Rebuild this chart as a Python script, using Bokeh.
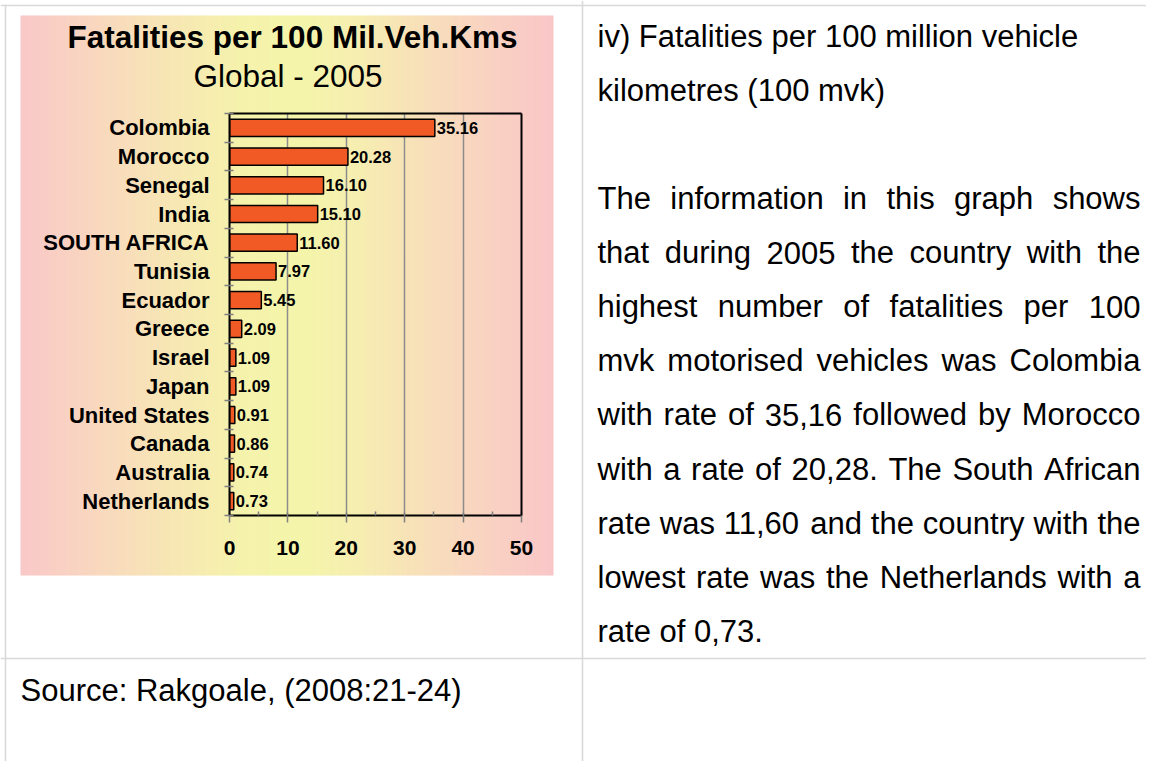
from bokeh.plotting import figure
from bokeh.layouts import column
from bokeh.models import Range1d, FixedTicker, LinearAxis, ColumnDataSource
from bokeh.core.properties import value
from bokeh.embed import file_html
from bokeh.resources import INLINE

# ---------------- data ----------------
countries = ["Colombia", "Morocco", "Senegal", "India", "SOUTH AFRICA", "Tunisia", "Ecuador",
             "Greece", "Israel", "Japan", "United States", "Canada", "Australia", "Netherlands"]
rates = [35.16, 20.28, 16.10, 15.10, 11.60, 7.97, 5.45, 2.09, 1.09, 1.09, 0.91, 0.86, 0.74, 0.73]
x_ticks = [0, 10, 20, 30, 40, 50]
x_minor_ticks = [5, 15, 25, 35, 45]
x_grid_ticks = [10, 20, 30, 40]
chart_title = "Fatalities per 100 Mil.Veh.Kms"
chart_subtitle = "Global - 2005"
heading_lines = ["iv) Fatalities per 100 million vehicle", "kilometres (100 mvk)"]
para_lines = [
    "The information in this graph shows",
    "that during 2005 the country with the",
    "highest number of fatalities per 100",
    "mvk motorised vehicles was Colombia",
    "with rate of 35,16 followed by Morocco",
    "with a rate of 20,28. The South African",
    "rate was 11,60 and the country with the",
    "lowest rate was the Netherlands with a",
    "rate of 0,73.",
]
source_text = "Source: Rakgoale, (2008:21-24)"

# ---------------- layout constants (page pixels) ----------------
W, H = 1146, 761
FL, FR, FT, FB = 229, 521, 113, 515
XMAX = x_ticks[-1]
NCAT = len(countries)
FONT = "Liberation Sans"

# ================= background figure: page, table, texts, gradient =================
bg = figure(width=W, height=H, output_backend="svg", toolbar_location=None,
            x_range=Range1d(0, W), y_range=Range1d(H, 0), x_axis_type=None, y_axis_type=None,
            min_border=0, min_border_left=0, min_border_right=0, min_border_top=0, min_border_bottom=0,
            background_fill_color="white", border_fill_color="white", outline_line_color=None)
bg.grid.visible = False

GX0, GX1, GY0, GY1 = 20, 553, 15, 575
stops = [(20, (249, 200, 200)), (88, (249, 214, 192)), (168, (247, 230, 180)), (238, (245, 242, 172)),
         (298, (244, 245, 170)), (358, (246, 238, 176)), (428, (248, 222, 186)), (493, (249, 209, 194)),
         (553, (249, 198, 200))]


def grad(cx):
    for (a, ca), (b, cb) in zip(stops[:-1], stops[1:]):
        if a <= cx <= b:
            t = (cx - a) / (b - a)
            c = [round(ca[i] + (cb[i] - ca[i]) * t) for i in range(3)]
            return "#%02x%02x%02x" % tuple(c)
    return "#%02x%02x%02x" % stops[-1][1]


edges = list(range(GX0, GX1, 3)) + [GX1]
ql, qr, qc = [], [], []
for a, b in zip(edges[:-1], edges[1:]):
    ql.append(a)
    qr.append(b + 0.7 if b < GX1 else b)
    qc.append(grad((a + b) / 2))
bg.quad(left=ql, right=qr, top=[GY0] * len(ql), bottom=[GY1] * len(ql), fill_color=qc, line_color=None)

# table rules
GRAY = "#d9d9d9"
bg.quad(left=[581.2, 0, 0, 4.2], right=[582.8, W, W, 5.8], top=[0, 657.2, 4.2, 4.2],
        bottom=[H, 658.8, 5.8, H], fill_color=GRAY, line_color=None)

# chart titles
bg.text(x=[292], y=[36], text=[chart_title], text_font=value(FONT), text_font_style="bold",
        text_font_size="31.5px", text_align="center", text_baseline="middle", text_color="black")
bg.text(x=[287.5], y=[75], text=[chart_subtitle], text_font=value(FONT),
        text_font_size="31.5px", text_align="center", text_baseline="middle", text_color="black")

# right column text
AW = {' ': 278, ',': 278, '.': 278, '-': 333, '(': 333, ')': 333, ':': 278,
      'a': 556, 'b': 556, 'c': 500, 'd': 556, 'e': 556, 'f': 278, 'g': 556, 'h': 556, 'i': 222,
      'j': 222, 'k': 500, 'l': 222, 'm': 833, 'n': 556, 'o': 556, 'p': 556, 'q': 556, 'r': 333,
      's': 500, 't': 278, 'u': 556, 'v': 500, 'w': 722, 'x': 500, 'y': 500, 'z': 500,
      'A': 667, 'C': 722, 'M': 833, 'N': 722, 'S': 667, 'T': 611, 'R': 722, 'F': 611}
FS = 31


def tw(s):
    return sum(AW.get(ch, 556) for ch in s) * FS / 1000.0


TL, TR = 597, 1140
tx, ty, tt, ta = [], [], [], []


def put(x, y, s, align="left"):
    tx.append(x); ty.append(y); tt.append(s); ta.append(align)


for s, cy in zip(heading_lines, [36, 90]):
    put(TL, cy, s)

para_y = [198 + 54.1 * i for i in range(len(para_lines))]
for k, (s, cy) in enumerate(zip(para_lines, para_y)):
    words = s.split(" ")
    if k == len(para_lines) - 1 or len(words) < 2:
        put(TL, cy, s)
        continue
    ws = [tw(w) for w in words]
    gap = (TR - TL - sum(ws)) / (len(words) - 1)
    x = TL
    for i, w in enumerate(words):
        if i == len(words) - 1:
            put(TR, cy, w, "right")
        else:
            put(x, cy, w)
        x += ws[i] + gap

put(20, 690, source_text)
bg.text(x=tx, y=ty, text=tt, text_align=ta, text_font=value(FONT), text_font_size="%dpx" % FS,
        text_baseline="middle", text_color="black")

# ================= chart figure (transparent, on top) =================
p = figure(width=W, height=H, output_backend="svg", toolbar_location=None,
           x_range=Range1d(0, XMAX), y_range=Range1d(0, NCAT),
           min_border_left=FL, min_border_right=W - FR, min_border_top=FT, min_border_bottom=H - FB,
           background_fill_color=None, border_fill_color=None, outline_line_color=None,
           margin=(-H, 0, 0, 0))

for fig in (bg, p):
    if "frame_align" in fig.properties():
        fig.frame_align = False

ypos = [NCAT - i - 0.5 for i in range(NCAT)]
src = ColumnDataSource(dict(y=ypos, v=rates, lab=["%.2f" % r for r in rates]))
p.hbar(y="y", left=0, right="v", height=0.6, source=src, fill_color="#f15a24",
       line_color="black", line_width=1.5)
p.text(x="v", y="y", text="lab", source=src, x_offset=2, text_baseline="middle",
       text_align="left", text_font=value(FONT), text_font_style="bold",
       text_font_size="16.5px", text_color="black")

p.xgrid.ticker = FixedTicker(ticks=x_grid_ticks)
p.xgrid.grid_line_color = "#8c8c8c"
p.xgrid.grid_line_width = 1.5
p.ygrid.visible = False

xa = p.xaxis[0]
xa.ticker = FixedTicker(ticks=x_ticks, minor_ticks=x_minor_ticks)
xa.axis_line_color = "black"
xa.axis_line_width = 2
xa.major_tick_line_color = "#808080"
xa.major_tick_line_width = 1.5
xa.major_tick_in = 3
xa.major_tick_out = 7
xa.minor_tick_line_color = "#808080"
xa.minor_tick_line_width = 1.5
xa.minor_tick_in = 4
xa.minor_tick_out = 0
xa.major_label_text_font = FONT
xa.major_label_text_font_style = "bold"
xa.major_label_text_font_size = "21px"
xa.major_label_text_color = "black"
xa.major_label_standoff = 18

ya = p.yaxis[0]
ya.ticker = FixedTicker(ticks=ypos, minor_ticks=list(range(NCAT + 1)))
ya.major_label_overrides = {y: c for y, c in zip(ypos, countries)}
ya.axis_line_color = "black"
ya.axis_line_width = 2
ya.major_tick_line_color = None
ya.major_tick_in = 0
ya.major_tick_out = 0
ya.minor_tick_line_color = "#808080"
ya.minor_tick_line_width = 1.5
ya.minor_tick_in = 4
ya.minor_tick_out = 5
ya.major_label_text_font = FONT
ya.major_label_text_font_style = "bold"
ya.major_label_text_font_size = "22px"
ya.major_label_text_color = "black"
ya.major_label_standoff = 15

for side in ["above", "right"]:
    ax = LinearAxis(ticker=FixedTicker(ticks=[]), axis_line_color="black", axis_line_width=2,
                    major_tick_line_color=None, minor_tick_line_color=None,
                    major_label_text_font_size="0px")
    p.add_layout(ax, side)

layout = column(bg, p)
open("out.html", "w").write(file_html(layout, INLINE))
